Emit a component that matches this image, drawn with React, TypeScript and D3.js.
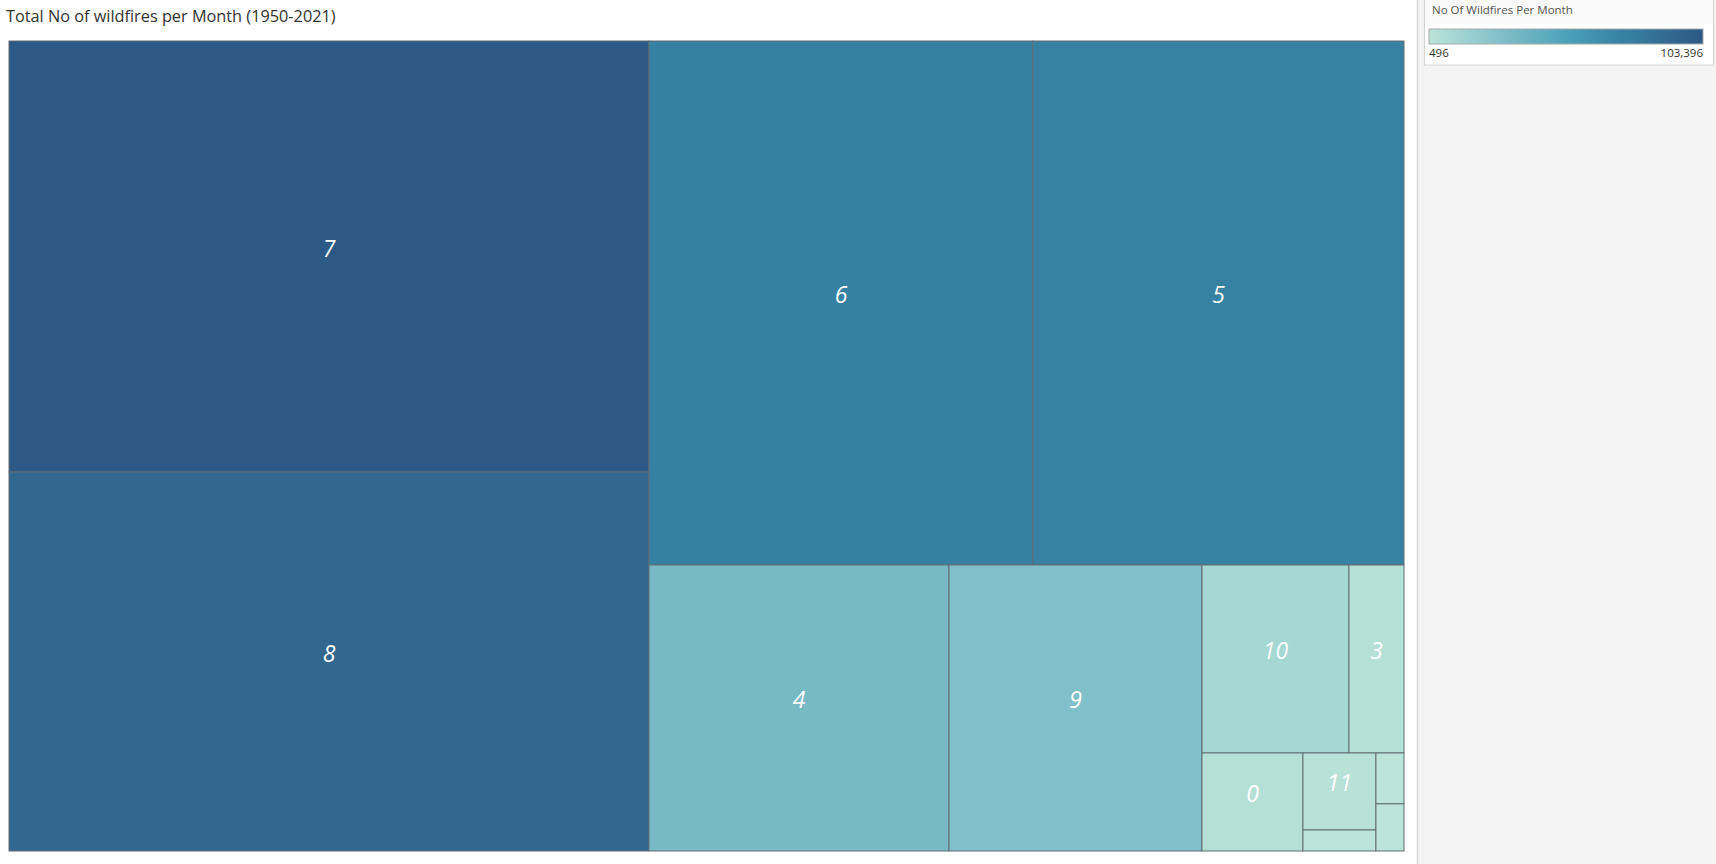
import React from 'react';
import * as d3 from 'd3';

const months = ["7", "8", "6", "5", "4", "9", "10", "3", "0", "11", "2", "1", "12"];
const fireCounts = [103396, 90921, 75424, 72870, 32161, 27123, 10359, 3876, 3710, 2107, 575, 535, 496];
const legendTickValues = [496, 103396];
const chartTitle = "Total No of wildfires per Month (1950-2021)";
const legendTitle = "No Of Wildfires Per Month";

const W = 1716, H = 864;
const X0 = 9, Y0 = 41, TW = 1395, TH = 810;

const paletteStops = [0, 0.096, 0.26, 0.31, 0.5, 0.69, 0.73, 0.88, 1];
const paletteColors = ["#bce4d8", "#a5d7d3", "#80c0ca", "#77b9c4", "#4aa3ba", "#3783a4", "#3681a2", "#32688f", "#2c5985"];

export default function App() {
  const data = months.map((m, i) => ({ month: m, value: fireCounts[i] }));
  const root = d3
    .hierarchy({ children: data } as any)
    .sum((d: any) => d.value ?? 0)
    .sort((a: any, b: any) => b.value - a.value);
  d3.treemap().size([TW, TH]).tile(d3.treemapSquarify)(root as any);
  const ext = d3.extent(fireCounts) as [number, number];
  const norm = d3.scaleLinear().domain(ext).range([0, 1]);
  const ramp = d3.scaleLinear<string>().domain(paletteStops).range(paletteColors).interpolate(d3.interpolateRgb);
  const color = (v: number) => ramp(norm(v));

  const lgX0 = 1429, lgX1 = 1703;
  const lgScale = d3.scaleLinear().domain(ext).range([lgX0, lgX1]);
  const gradStops = d3.range(0, 1.0001, 0.05);
  const fmt = d3.format(",");

  const leaves = (root.leaves() as any[]);

  return (
    <div style={{ position: 'absolute', left: 0, top: 0, width: W, height: H, background: '#fff' }}>
      <svg width={W} height={H} style={{ display: 'block' }} fontFamily="'Open Sans', sans-serif">
        <defs>
          <linearGradient id="lg" x1="0" x2="1" y1="0" y2="0">
            {gradStops.map((s) => (
              <stop key={s} offset={s} stopColor={ramp(s)} />
            ))}
          </linearGradient>
        </defs>
        <rect x={0} y={0} width={W} height={H} fill="#fff" />
        {/* right side panel */}
        <rect x={1417} y={0} width={W - 1417} height={H} fill="#f3f3f3" />
        <line x1={1417.5} x2={1417.5} y1={0} y2={H} stroke="#d6d6d6" strokeWidth={1.5} />
        {/* title */}
        <text x={6} y={22} fontSize={16.3} fill="#333">{chartTitle}</text>
        {/* treemap */}
        <g transform={`translate(${X0},${Y0})`}>
          {leaves.map((d) => (
            <rect
              key={d.data.month}
              x={d.x0}
              y={d.y0}
              width={d.x1 - d.x0}
              height={d.y1 - d.y0}
              fill={color(d.data.value)}
              stroke="#646d73"
              strokeWidth={1}
            />
          ))}
          {leaves.map((d) => {
            const w = d.x1 - d.x0, h = d.y1 - d.y0;
            if (w < 45 || h < 40) return null;
            return (
              <text
                key={'t' + d.data.month}
                x={(d.x0 + d.x1) / 2}
                y={(d.y0 + d.y1) / 2 - 9}
                textAnchor="middle"
                dominantBaseline="central"
                fontSize={23}
                fontStyle="italic"
                fill="#fff"
              >
                {d.data.month}
              </text>
            );
          })}
        </g>
        {/* legend */}
        <rect x={1424.5} y={-1} width={289} height={66} fill="#fff" stroke="#d4d4d4" />
        <rect x={1425} y={0} width={288} height={24} fill="#fafafa" />
        <text x={1432} y={14} fontSize={11.5} fill="#555">{legendTitle}</text>
        <rect x={lgX0} y={29} width={lgX1 - lgX0} height={15} fill="url(#lg)" stroke="#a8a8a8" />
        {legendTickValues.map((v, i) => (
          <text
            key={v}
            x={lgScale(v)}
            y={57}
            fontSize={11.5}
            fill="#333"
            textAnchor={i === 0 ? 'start' : 'end'}
          >
            {fmt(v)}
          </text>
        ))}
      </svg>
    </div>
  );
}
